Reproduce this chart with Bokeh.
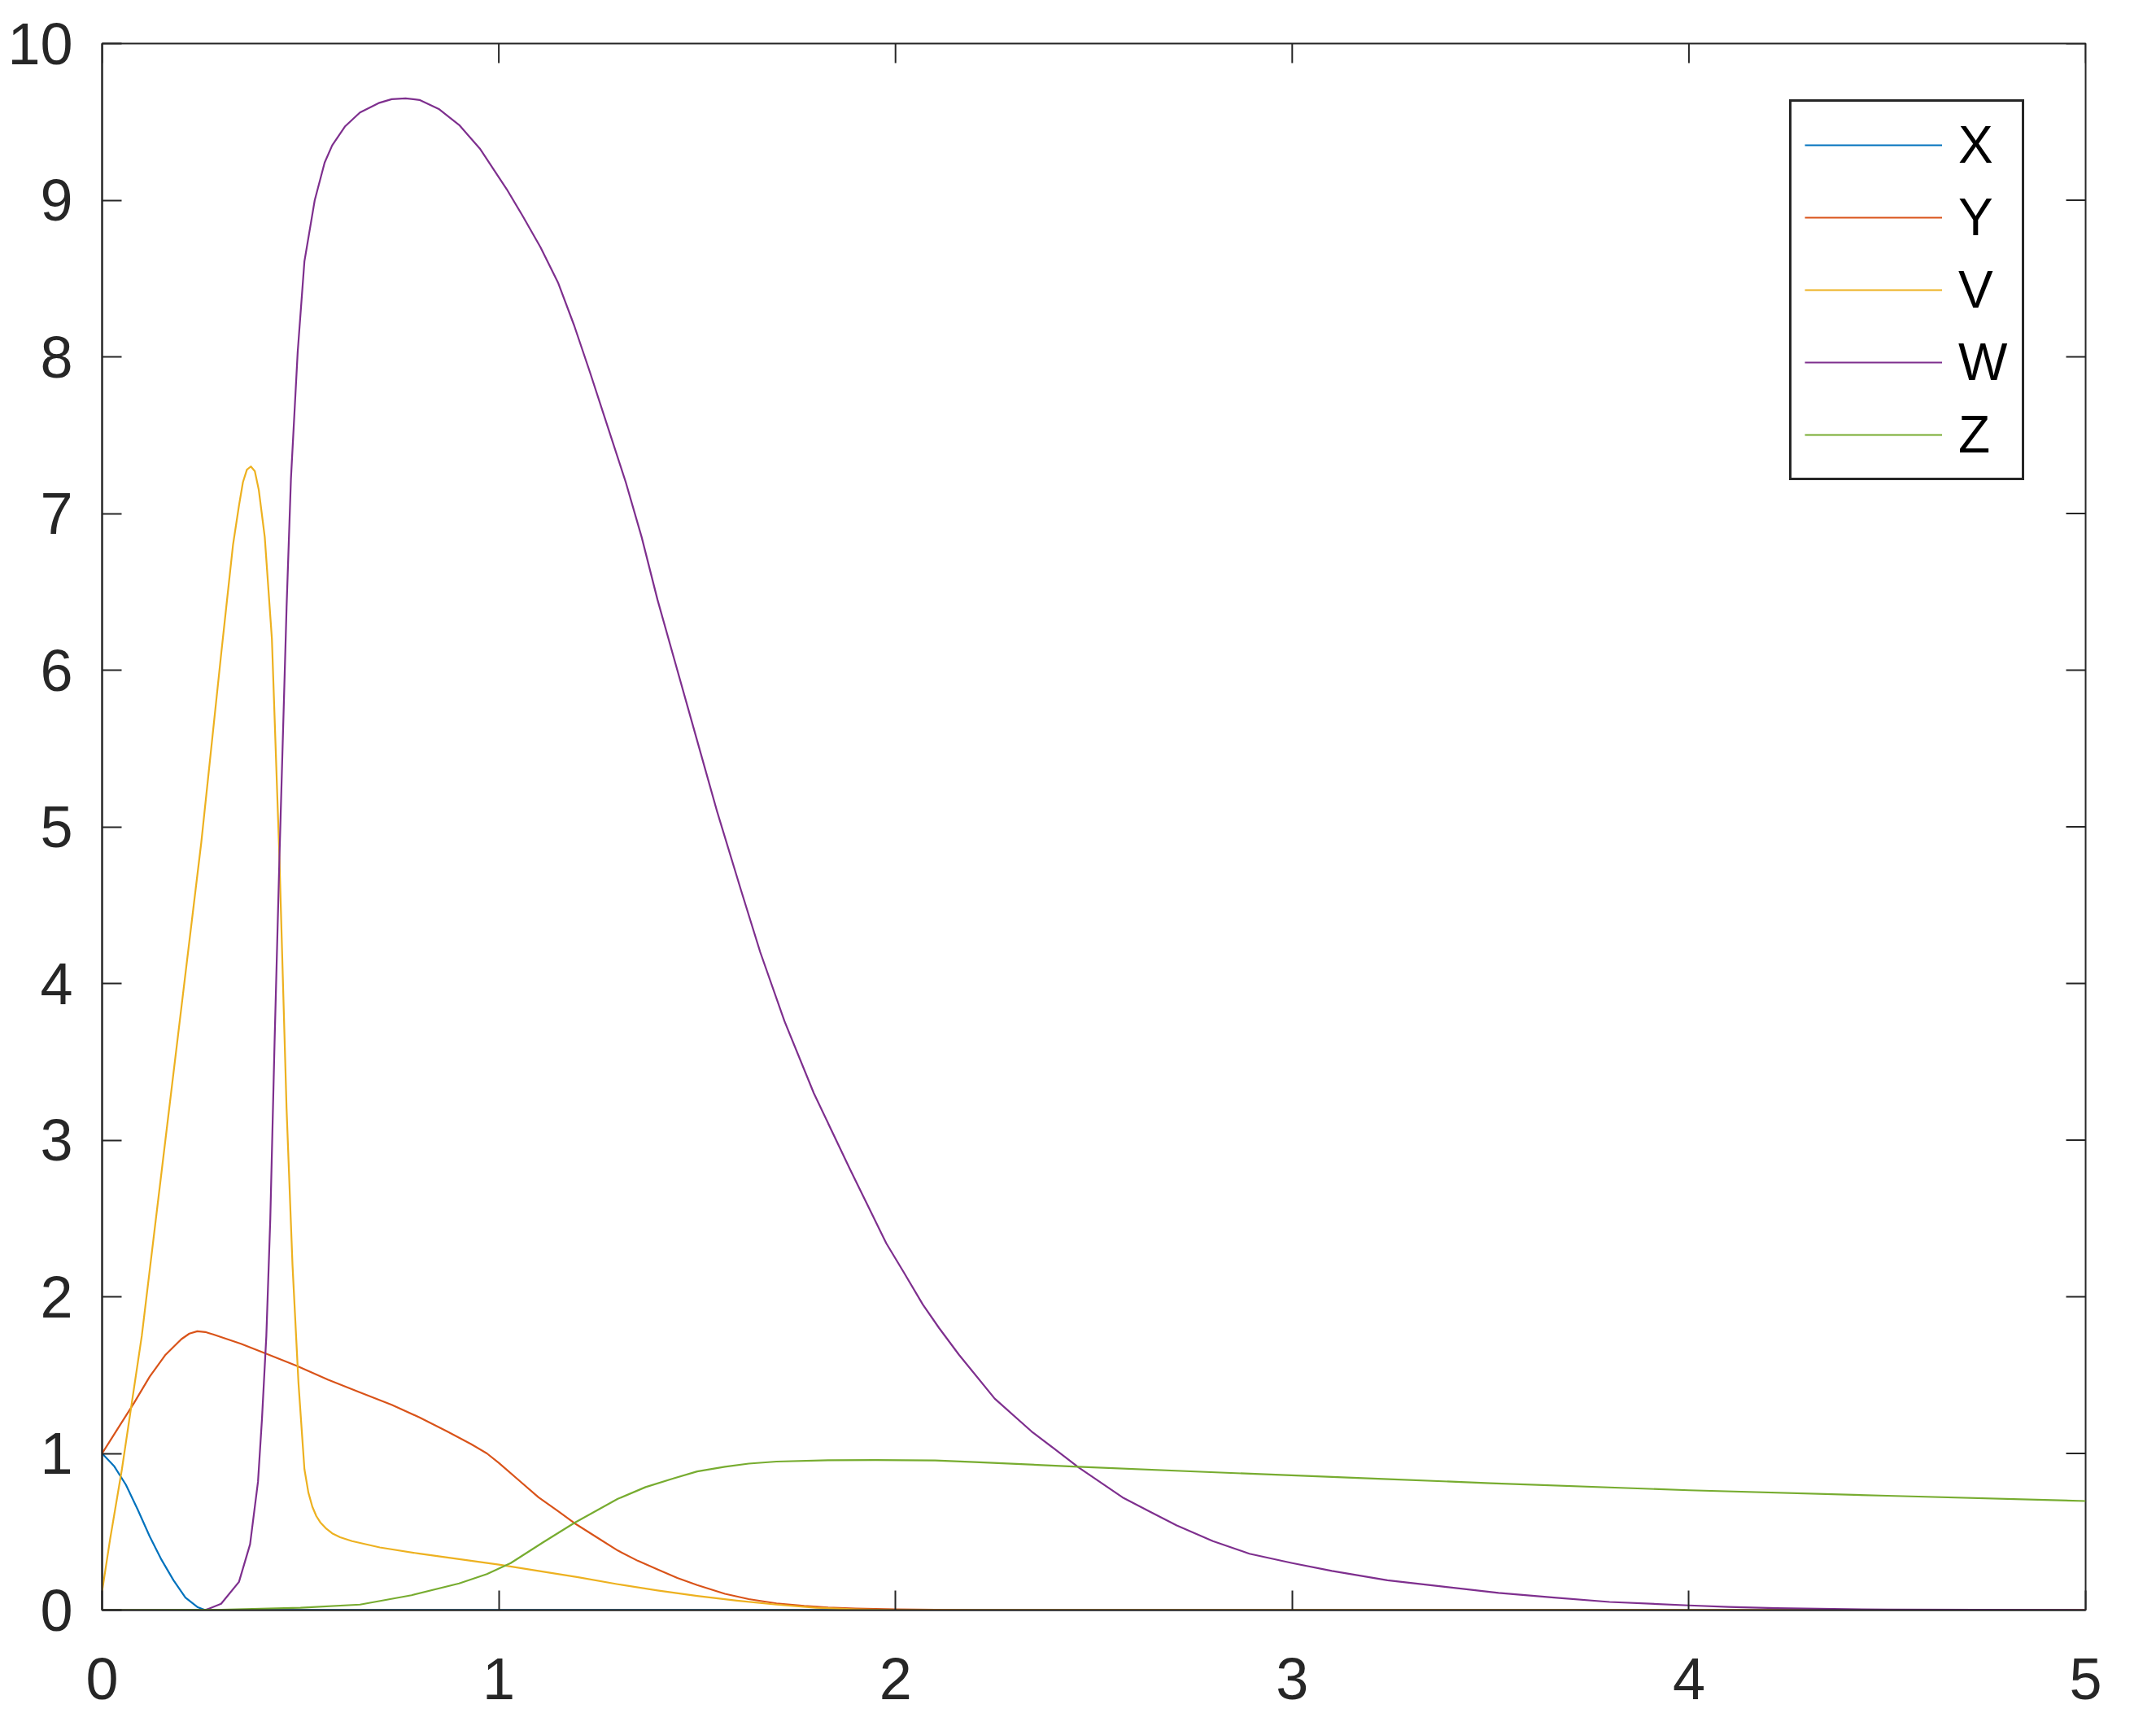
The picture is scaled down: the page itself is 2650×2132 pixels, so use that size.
import math
from bokeh.plotting import figure
from bokeh.models import Legend, LegendItem, FixedTicker, Range1d
from bokeh.embed import file_html
from bokeh.resources import INLINE

# ---- data ----
x_ticks = [0, 1, 2, 3, 4, 5]
y_ticks = [0, 1, 2, 3, 4, 5, 6, 7, 8, 9, 10]
series_names = ["X", "Y", "V", "W", "Z"]

X_t = [0, 0.03, 0.06, 0.09, 0.12, 0.15, 0.18, 0.21, 0.24, 0.26, 0.5, 1, 2, 3, 4, 5]
X_v = [1.0, 0.92, 0.80, 0.64, 0.47, 0.32, 0.19, 0.08, 0.02, 0.0, 0, 0, 0, 0, 0, 0]

Y_t = [0, 0.04, 0.08, 0.12, 0.16, 0.20, 0.22, 0.24, 0.26, 0.28, 0.35, 0.41, 0.49, 0.57, 0.65, 0.73,
       0.80, 0.87, 0.93, 0.97, 1.0, 1.05, 1.1, 1.15, 1.19, 1.25, 1.3, 1.35, 1.4, 1.45, 1.5, 1.57, 1.63,
       1.7, 1.77, 1.83, 1.9, 2.0, 2.2, 3, 4, 5]
Y_v = [1.0, 1.16, 1.32, 1.49, 1.63, 1.73, 1.765, 1.78, 1.775, 1.76, 1.70, 1.64, 1.56, 1.47, 1.39, 1.31,
       1.23, 1.14, 1.06, 1.0, 0.94, 0.83, 0.72, 0.63, 0.556, 0.46, 0.38, 0.315, 0.26, 0.205, 0.16,
       0.104, 0.07, 0.043, 0.027, 0.017, 0.01, 0.005, 0.0, 0, 0, 0]

V_t = [0, 0.02, 0.05, 0.1, 0.15, 0.2, 0.25, 0.3, 0.33, 0.345, 0.355, 0.365, 0.375, 0.385, 0.395,
       0.41, 0.428, 0.447, 0.465, 0.48, 0.495, 0.51, 0.52, 0.53, 0.54, 0.55, 0.565, 0.58, 0.6,
       0.63, 0.7, 0.8, 0.9, 1.0, 1.1, 1.2, 1.3, 1.4, 1.5, 1.6, 1.7, 1.8, 1.9, 2.0, 3, 4, 5]
V_v = [0.12, 0.45, 0.9, 1.75, 2.8, 3.85, 4.9, 6.1, 6.8, 7.05, 7.2, 7.28, 7.3, 7.27, 7.15,
       6.85, 6.2, 4.8, 3.2, 2.2, 1.45, 0.9, 0.75, 0.66, 0.6, 0.56, 0.52, 0.49, 0.465,
       0.44, 0.40, 0.36, 0.325, 0.29, 0.25, 0.21, 0.165, 0.125, 0.09, 0.06, 0.035, 0.015, 0.005,
       0.0, 0, 0, 0]

W_t = [0, 0.26, 0.30, 0.345, 0.373, 0.393, 0.403, 0.414, 0.424, 0.435, 0.447, 0.465, 0.476,
       0.493, 0.51, 0.536, 0.561, 0.58, 0.612, 0.65, 0.697, 0.73, 0.765, 0.80, 0.85, 0.90, 0.952,
       1.02, 1.06, 1.105, 1.15, 1.19, 1.23, 1.275, 1.32, 1.36, 1.40, 1.45, 1.50, 1.55, 1.61, 1.659,
       1.72, 1.794, 1.886, 1.977, 2.02, 2.069, 2.11, 2.16, 2.25, 2.343, 2.40, 2.462, 2.52, 2.572,
       2.64, 2.709, 2.80, 2.892, 3.0, 3.1, 3.24, 3.38, 3.52, 3.66, 3.8, 4.0, 4.1, 4.22, 4.5, 5.0]
W_v = [0, 0, 0.04, 0.18, 0.42, 0.82, 1.22, 1.75, 2.5, 3.65, 4.8, 6.4, 7.22,
       8.03, 8.61, 9.0, 9.24, 9.35, 9.47, 9.56, 9.62, 9.645, 9.65, 9.64, 9.58, 9.48, 9.33,
       9.07, 8.9, 8.70, 8.47, 8.2, 7.9, 7.55, 7.2, 6.85, 6.45, 6.0, 5.55, 5.1, 4.6, 4.2,
       3.76, 3.3, 2.81, 2.34, 2.16, 1.95, 1.8, 1.63, 1.35, 1.14, 1.03, 0.91, 0.81, 0.72,
       0.63, 0.54, 0.44, 0.36, 0.30, 0.25, 0.19, 0.15, 0.11, 0.08, 0.052, 0.03, 0.02, 0.012, 0.003, 0.0]

Z_t = [0, 0.3, 0.5, 0.65, 0.78, 0.9, 0.97, 1.03, 1.11, 1.19, 1.3, 1.37, 1.44, 1.5, 1.57, 1.63, 1.7,
       1.83, 1.95, 2.1, 2.2, 2.46, 2.82, 3.23, 3.5, 4.0, 4.5, 5.0]
Z_v = [0, 0.002, 0.015, 0.035, 0.095, 0.17, 0.23, 0.3, 0.43, 0.556, 0.71, 0.785, 0.84, 0.885, 0.915,
       0.935, 0.948, 0.957, 0.958, 0.955, 0.945, 0.915, 0.878, 0.837, 0.81, 0.765, 0.73, 0.696]

colors = ["#0072BD", "#D95319", "#EDB120", "#7E2F8E", "#77AC30"]
AX = "#262626"
FONT = "Liberation Sans"

x_lo, x_hi = x_ticks[0], x_ticks[-1]
y_lo, y_hi = y_ticks[0], y_ticks[-1]

p = figure(width=2642, height=2124, output_backend="svg", toolbar_location=None,
           x_range=Range1d(x_lo, x_hi), y_range=Range1d(y_lo, y_hi),
           min_border_left=125, min_border_right=79, min_border_top=53, min_border_bottom=146,
           background_fill_color="white", border_fill_color="white")
p.grid.visible = False
p.outline_line_color = AX
p.outline_line_width = 2


def style_axis(ax, ticks, standoff):
    ax.ticker = FixedTicker(ticks=ticks)
    ax.major_tick_in = 24
    ax.major_tick_out = 0
    ax.minor_tick_line_color = None
    ax.axis_line_color = AX
    ax.axis_line_width = 2
    ax.major_tick_line_color = AX
    ax.major_tick_line_width = 2
    ax.major_label_text_font = FONT
    ax.major_label_text_font_size = "72px"
    ax.major_label_text_color = AX
    ax.major_label_standoff = standoff


style_axis(p.xaxis[0], x_ticks, 59)
style_axis(p.yaxis[0], y_ticks, 36)

# inward tick marks on the top and right edges of the box (MATLAB "box on")
p.ray(x=x_ticks, y=[y_hi] * len(x_ticks), length=24, length_units="screen",
      angle=-math.pi / 2, line_color=AX, line_width=2)
p.ray(x=[x_hi] * len(y_ticks), y=y_ticks, length=24, length_units="screen",
      angle=math.pi, line_color=AX, line_width=2)

data = [(X_t, X_v), (Y_t, Y_v), (V_t, V_v), (W_t, W_v), (Z_t, Z_v)]
items = []
for name, (t, v), c in zip(series_names, data, colors):
    r = p.line(t, v, line_color=c, line_width=2.2, line_join="round")
    items.append(LegendItem(label=name, renderers=[r]))

legend = Legend(items=items, location=(2074, 1388), margin=0,
                label_text_font=FONT, label_text_font_size="64px", label_text_color="#000000",
                glyph_width=169, glyph_height=74, label_height=74, label_width=62,
                label_standoff=20, spacing=15, padding=16,
                border_line_color=AX, border_line_width=3, border_line_alpha=1.0,
                background_fill_color="white", background_fill_alpha=1.0)
p.add_layout(legend)

open("out.html", "w").write(file_html(p, INLINE))
